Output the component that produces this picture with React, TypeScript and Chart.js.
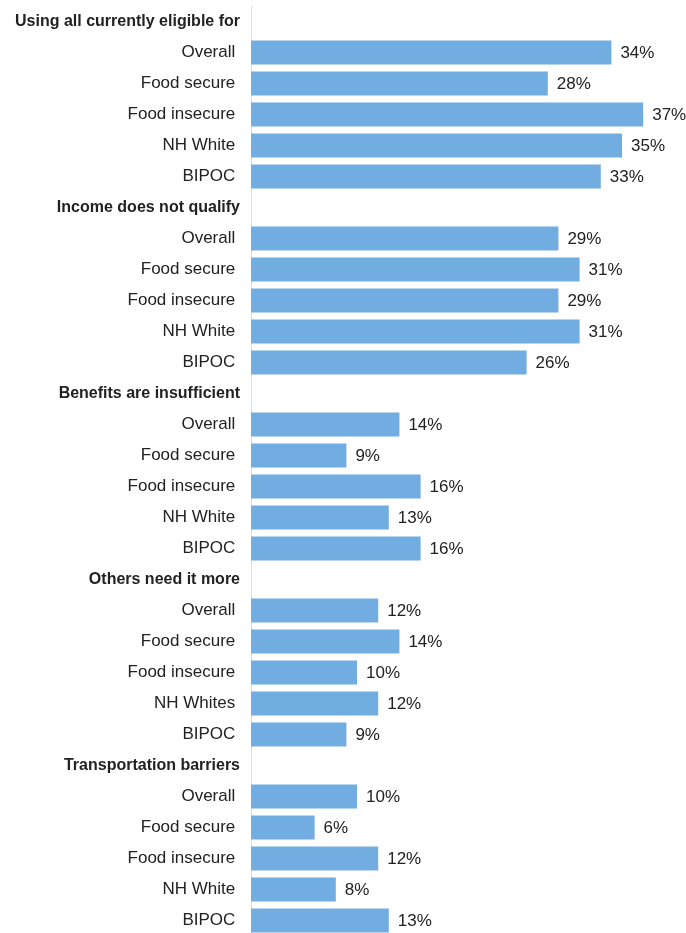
import React, { useEffect, useRef } from "react";
import { Chart, registerables } from "chart.js";

Chart.register(...registerables);

const categories: string[] = [
  "Using all currently eligible for",
  "Overall", "Food secure", "Food insecure", "NH White", "BIPOC",
  "Income does not qualify",
  "Overall", "Food secure", "Food insecure", "NH White", "BIPOC",
  "Benefits are insufficient",
  "Overall", "Food secure", "Food insecure", "NH White", "BIPOC",
  "Others need it more",
  "Overall", "Food secure", "Food insecure", "NH Whites", "BIPOC",
  "Transportation barriers",
  "Overall", "Food secure", "Food insecure", "NH White", "BIPOC",
];

const headerRows: number[] = [0, 6, 12, 18, 24];

const values: (number | null)[] = [
  null, 34, 28, 37, 35, 33,
  null, 29, 31, 29, 31, 26,
  null, 14, 9, 16, 13, 16,
  null, 12, 14, 10, 12, 9,
  null, 10, 6, 12, 8, 13,
];

const FAMILY = "'Liberation Sans', Arial, Helvetica, sans-serif";
const BAR_COLOR = "#72ADE2";
const TEXT_COLOR = "#222222";

const valueLabelPlugin = {
  id: "valueLabels",
  afterDatasetsDraw(chart: any) {
    const ctx = chart.ctx;
    const meta = chart.getDatasetMeta(0);
    ctx.save();
    ctx.font = `17px ${FAMILY}`;
    ctx.fillStyle = TEXT_COLOR;
    ctx.textAlign = "left";
    ctx.textBaseline = "middle";
    meta.data.forEach((bar: any, i: number) => {
      const v = values[i];
      if (v === null || v === undefined) return;
      ctx.fillText(`${v}%`, bar.x + 9, bar.y + 1);
    });
    ctx.restore();
  },
};

export default function App() {
  const canvasRef = useRef<HTMLCanvasElement | null>(null);

  useEffect(() => {
    if (!canvasRef.current) return;
    const chart = new Chart(canvasRef.current, {
      type: "bar",
      data: {
        labels: categories,
        datasets: [
          {
            data: values as any,
            backgroundColor: BAR_COLOR,
            borderWidth: 0,
            barPercentage: 0.78,
            categoryPercentage: 1,
          },
        ],
      },
      options: {
        indexAxis: "y",
        animation: false,
        responsive: true,
        maintainAspectRatio: false,
        layout: { padding: { top: 6, bottom: 4, left: 0, right: 11 } },
        plugins: {
          legend: { display: false },
          tooltip: { enabled: false },
        },
        scales: {
          x: {
            display: false,
            min: 0,
            max: 40,
          },
          y: {
            grid: { display: false, drawTicks: false },
            border: { display: true, color: "#dcdcdc", width: 1 },
            afterFit: (scale: any) => {
              scale.width = 251;
              scale.paddingTop = 0;
              scale.paddingBottom = 0;
            },
            ticks: {
              autoSkip: false,
              padding: 11,
              color: TEXT_COLOR,
              font: (c: any) =>
                headerRows.includes(c.index)
                  ? { family: FAMILY, size: 16, weight: "bold" }
                  : { family: FAMILY, size: 17, weight: "normal" },
              callback: (_v: any, i: number) =>
                headerRows.includes(i) ? categories[i] : categories[i] + " ",
            },
          },
        },
      },
      plugins: [valueLabelPlugin],
    });
    return () => chart.destroy();
  }, []);

  return (
    <div
      style={{
        position: "fixed",
        left: 0,
        top: 0,
        width: 686,
        height: 933,
        overflow: "hidden",
        background: "#fff",
      }}
    >
      <div style={{ position: "relative", width: 686, height: 940 }}>
        <canvas ref={canvasRef} />
      </div>
    </div>
  );
}
